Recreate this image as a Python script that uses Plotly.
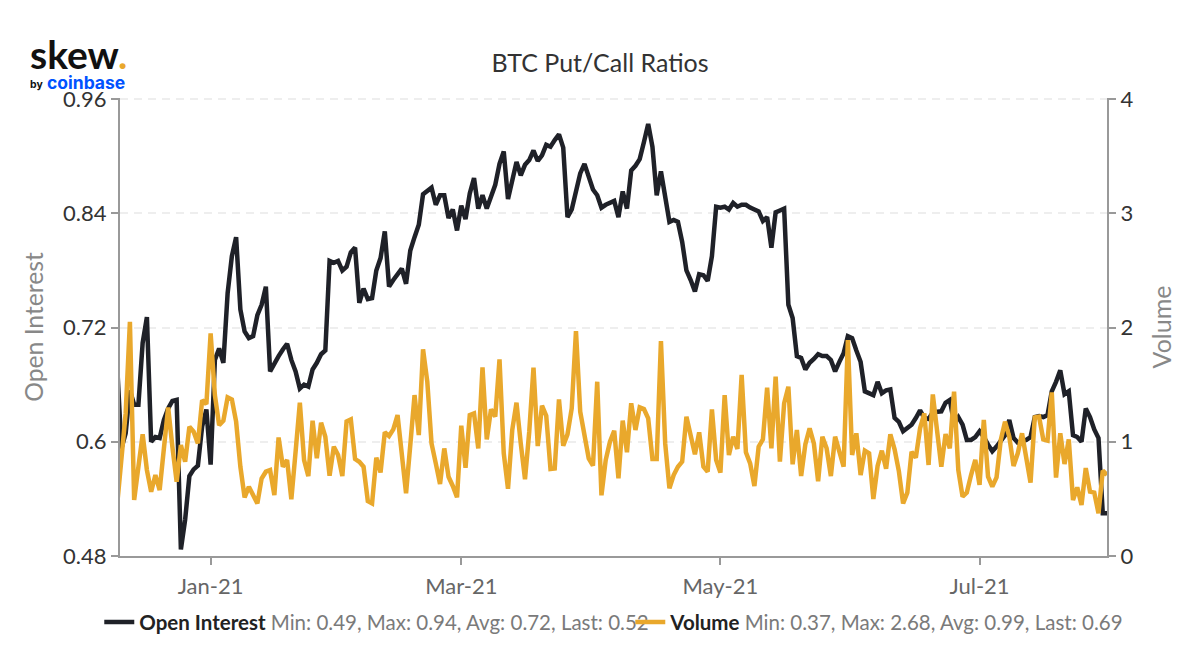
import pandas as pd
import plotly.graph_objects as go

start_day = "2020-12-10"

open_interest = [
    .680, .593, .609, .654, .639, .639, .704, .731, .600, .605, .604, .623, .635, .643, .644, .487, .518, .564, .571, .575,
    .616, .634, .576, .686, .698, .683, .756, .795, .815, .739, .716, .709, .711, .733, .744, .763, .674, .683, .690, .697,
    .703, .686, .674, .656, .660, .658, .676, .683, .692, .696, .790, .788, .790, .780, .784, .799, .804, .746, .761, .750,
    .751, .780, .793, .821, .763, .770, .777, .782, .766, .801, .815, .828, .860, .863, .867, .849, .859, .859, .835, .844,
    .822, .848, .834, .861, .877, .845, .859, .845, .857, .870, .892, .905, .855, .877, .894, .880, .891, .896, .906, .895,
    .901, .912, .910, .917, .923, .909, .836, .844, .863, .882, .892, .878, .865, .859, .846, .849, .851, .853, .836, .863,
    .845, .885, .890, .897, .915, .934, .910, .859, .884, .854, .831, .833, .831, .810, .780, .770, .758, .776, .775, .769,
    .795, .847, .846, .847, .844, .851, .847, .849, .849, .846, .844, .842, .832, .836, .804, .841, .843, .845, .744, .730,
    .690, .688, .676, .683, .687, .692, .690, .690, .686, .674, .684, .693, .711, .709, .696, .684, .653, .651, .649, .663,
    .651, .654, .655, .625, .621, .611, .615, .618, .625, .633, .625, .624, .631, .632, .632, .641, .644, .620, .626, .618,
    .602, .602, .605, .611, .605, .597, .590, .595, .602, .607, .623, .604, .599, .600, .602, .605, .626, .627, .626, .628,
    .653, .663, .675, .650, .653, .607, .605, .600, .635, .626, .613, .604, .525, .525,
]

volume = [
    .450, .811, 1.248, 2.051, .490, .782, 1.065, .752, .563, .709, .577, .942, 1.301, .957, .650, .971, .825, 1.132, 1.088, .986,
    1.365, 1.330, 1.949, 1.409, 1.146, 1.184, 1.389, 1.371, 1.176, .782, .513, .606, .534, .461, .679, .738, .752, .534, 1.038, .782,
    .840, .496, .913, 1.342, .840, .700, 1.184, .855, 1.167, 1.044, .703, .957, .884, .700, 1.178, 1.196, .849, .825, .782, .481,
    .461, .861, .732, 1.083, 1.050, 1.109, 1.234, .884, .549, .972, 1.409, 1.059, 1.809, 1.526, .986, .811, .630, .942, .694, .613,
    .514, 1.141, .773, 1.234, 1.249, .942, 1.652, 1.021, 1.284, 1.220, 1.722, .899, .589, 1.103, 1.342, .986, .671, 1.088, 1.649, .963,
    1.316, 1.228, .762, .767, 1.371, .966, 1.065, 1.293, 1.970, 1.263, 1.074, .855, .791, 1.526, .531, .840, 1.001, 1.097, .680, 1.185,
    .908, 1.337, 1.103, 1.301, 1.287, 1.205, .849, .849, 1.882, .986, .592, .709, .782, .826, 1.220, 1.059, .890, 1.083, .782, .738,
    1.284, .840, .730, 1.409, .884, 1.045, .937, 1.585, .908, .811, .613, .957, 1.021, 1.474, .943, 1.570, .826, 1.337, 1.482, .803,
    1.103, .700, .980, 1.118, .986, .654, 1.045, .943, .700, 1.045, .913, .782, 1.891, .884, 1.074, .709, .922, .899, .499, .788,
    .922, .765, 1.065, .934, .744, .461, .555, .913, .861, 1.118, 1.249, .797, 1.415, 1.103, .782, 1.068, .943, 1.439, .753, .520,
    .555, .709, .841, .622, 1.191, .695, .607, .689, 1.016, 1.176, 1.045, .788, .899, 1.074, .870, .642, 1.214, 1.220, 1.021, 1.010,
    1.433, .686, 1.074, .805, 1.021, .490, .601, .447, .770, .563, .555, .374, .747, .709,
]

left_ticks = [0.48, 0.6, 0.72, 0.84, 0.96]
right_ticks = [0, 1, 2, 3, 4]
month_ticks = ["2021-01-01", "2021-03-01", "2021-05-01", "2021-07-01"]
month_labels = ["Jan-21", "Mar-21", "May-21", "Jul-21"]

oi_stats = "Min: 0.49, Max: 0.94, Avg: 0.72, Last: 0.52"
vol_stats = "Min: 0.37, Max: 2.68, Avg: 0.99, Last: 0.69"

days = pd.date_range(start_day, periods=len(open_interest), freq="D")

DARK = "#1f2128"
ORANGE = "#e9a82c"
SPINE = "#999999"
FONT = "Lato"


def legend_name(name, stats):
    return f"<b>{name}</b> <span style='color:#7a7a7a'>{stats}</span>"


fig = go.Figure()
fig.add_trace(go.Scatter(x=days, y=open_interest, mode="lines", yaxis="y",
                         line=dict(color=DARK, width=4.5),
                         name=legend_name("Open Interest", oi_stats)))
fig.add_trace(go.Scatter(x=days, y=volume, mode="lines", yaxis="y2",
                         line=dict(color=ORANGE, width=4.5),
                         name=legend_name("Volume", vol_stats)))

fig.update_layout(
    width=1200, height=670,
    margin=dict(l=120, r=93, t=98, b=114),
    paper_bgcolor="white", plot_bgcolor="white",
    font=dict(family=FONT, size=18, color="#333333"),
    title=dict(text="BTC Put/Call Ratios", x=0.5, xanchor="center", y=0.905, yanchor="middle",
               font=dict(family=FONT, size=25, color="#333333")),
    xaxis=dict(range=["2020-12-10 16:00", "2021-07-31"], tickvals=month_ticks, ticktext=month_labels,
               showgrid=False, zeroline=False, showline=True, linecolor=SPINE, linewidth=2,
               ticks="outside", ticklen=7, tickwidth=2, tickcolor=SPINE, ticklabelstandoff=3,
               tickfont=dict(size=22, color="#666666")),
    # top of the range sits just past the last tick, plotly drops the gridline otherwise
    yaxis=dict(range=[0.48, 0.9612], tickvals=left_ticks, ticktext=["0.48", "0.6", "0.72", "0.84", "0.96"],
               showgrid=True, gridcolor="#eeeeee", gridwidth=2, griddash="8px,6px", zeroline=False,
               showline=True, linecolor=SPINE, linewidth=2,
               ticks="outside", ticklen=7, tickwidth=2, tickcolor=SPINE,
               tickfont=dict(size=22, color="#333333"),
               title=dict(text="Open Interest", standoff=12, font=dict(size=24.7, color="#888888"))),
    yaxis2=dict(range=[0, 4.01], tickvals=right_ticks, overlaying="y", side="right", anchor="x",
                showgrid=False, zeroline=False, showline=True, linecolor=SPINE, linewidth=2,
                ticks="outside", ticklen=7, tickwidth=2, tickcolor=SPINE,
                tickfont=dict(size=22, color="#333333"),
                title=dict(text="Volume", standoff=21, font=dict(size=25, color="#888888"))),
    legend=dict(orientation="h", x=-0.021, y=-0.101, xanchor="left", yanchor="top",
                entrywidth=486, entrywidthmode="pixels", itemwidth=30,
                font=dict(family=FONT, size=20.5, color="#222222")),
)

# logo, placed by hand in the corner
fig.add_annotation(xref="paper", yref="paper", x=-0.093, y=1.096, xanchor="left", yanchor="middle", showarrow=False,
                   text="<b>skew<span style='color:#e9a82c'>.</span></b>",
                   font=dict(family="Lato", size=39, color="#111111"))
fig.add_annotation(xref="paper", yref="paper", x=-0.093, y=1.03, xanchor="left", yanchor="middle", showarrow=False,
                   text="<b>by</b>", font=dict(family="Inter", size=10.5, color="#111111"))
fig.add_annotation(xref="paper", yref="paper", x=-0.076, y=1.034, xanchor="left", yanchor="middle", showarrow=False,
                   text="<b>coinbase</b>", font=dict(family="Inter", size=17.5, color="#0052ff"))

fig.write_html("out.html", config=dict(displayModeBar=False), post_script="document.body.style.margin='0';")
